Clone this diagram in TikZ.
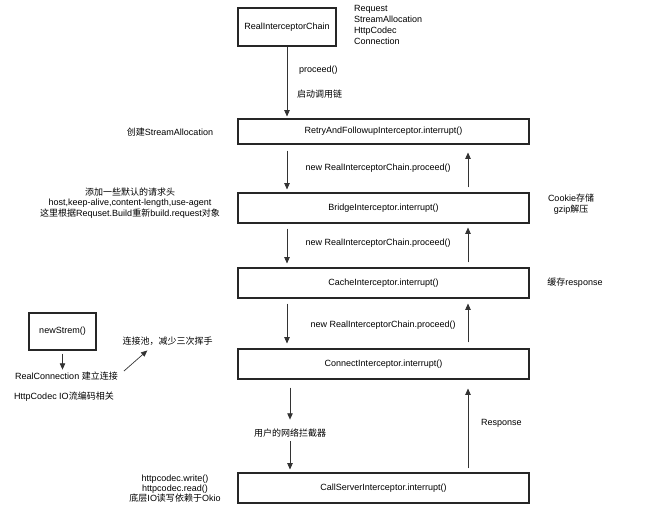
\documentclass[tikz,border=0pt]{standalone}
\usepackage{fontspec}
\setmainfont{Liberation Sans}
\newfontfamily\cjkfont{Noto Sans CJK SC}
\newcommand{\zh}[1]{{\cjkfont #1}}
\usetikzlibrary{arrows.meta}
\tikzset{%
  >={Triangle[width=1.9mm,length=2.2mm]},
  base/.style = {rectangle, draw=black!85, line width=1.1pt, text centered},
  chainBox/.style = {base, minimum width=98pt, minimum height=38pt},
  interceptor/.style = {base, minimum width=291pt, minimum height=30pt},
  note/.style = {align=center, inner sep=0pt},
  flow/.style = {->, draw=black!80, line width=0.7pt},
}

\begin{document}
\begin{tikzpicture}[x=1pt, y=-1pt,
    every node/.style={font=\fontsize{9}{11}\selectfont}]
  \useasboundingbox (0,0) rectangle (650,523);
  % the chain and its interceptors
  \node (chain)      [chainBox]    at (287,27)     {RealInterceptorChain};
  \node (retry)      [interceptor, minimum height=25pt] at (383.5,131.5)
                                           {RetryAndFollowupInterceptor.interrupt()};
  \node (bridge)     [interceptor] at (383.5,208)  {BridgeInterceptor.interrupt()};
  \node (cache)      [interceptor] at (383.5,283)  {CacheInterceptor.interrupt()};
  \node (connect)    [interceptor] at (383.5,364)  {ConnectInterceptor.interrupt()};
  \node (callServer) [interceptor] at (383.5,488)  {CallServerInterceptor.interrupt()};
  \node (newStream)  [base, minimum width=67pt, minimum height=37pt] at (62.5,331.5)
                                                                 {newStrem()};
  % notes beside the boxes
  \node (chainFields) [note, align=left, anchor=west] at (354,25)
                          {Request\\StreamAllocation\\HttpCodec\\Connection};
  \node (proceedLabel) [note, anchor=west] at (299,70)  {proceed()};
  \node (startLabel)   [note, anchor=west] at (297,94)  {\zh{启动调用链}};
  \node (allocNote)    [note] at (170,132)   {\zh{创建}StreamAllocation};
  \node (headerNote)   [note, font=\fontsize{9}{10.3}\selectfont] at (130,203)
                          {\zh{添加一些默认的请求头}\\
                           host,keep-alive,content-length,use-agent\\
                           \zh{这里根据}Requset.Build\zh{重新}build.request\zh{对象}};
  \node (cookieNote)   [note] at (571,204.5) {Cookie\zh{存储}\\gzip\zh{解压}};
  \node (cacheNote)    [note] at (575,283)   {\zh{缓存}response};
  \node (realConn)     [note] at (66.5,376)  {RealConnection \zh{建立连接}};
  \node (poolNote)     [note] at (167.5,341) {\zh{连接池，减少三次挥手}};
  \node (codecNote)    [note] at (64,397)    {HttpCodec IO\zh{流编码相关}};
  \node (netLabel)     [note] at (290,433)   {\zh{用户的网络拦截器}};
  \node (responseLabel)[note, anchor=west] at (481,423) {Response};
  \node (ioNote)       [note, font=\fontsize{9}{9.8}\selectfont] at (175,488.5)
                          {httpcodec.write()\\httpcodec.read()\\
                           \zh{底层}IO\zh{读写依赖于}Okio};
  \coordinate (downX) at (287,0);
  \coordinate (upX)   at (468,0);
  % calls going down, responses going up
  \draw[flow, shorten >=2pt] (chain) -- (chain.south |- retry.north);
  \draw[flow, shorten <=6pt, shorten >=3pt] (retry.south -| downX) --
      node[anchor=west, xshift=15pt] {new RealInterceptorChain.proceed()}
      (bridge.north -| downX);
  \draw[flow, shorten <=5pt, shorten >=8pt] (bridge.north -| upX) -- (retry.south -| upX);
  \draw[flow, shorten <=5pt, shorten >=4pt] (bridge.south -| downX) --
      node[anchor=west, xshift=15pt, yshift=2pt] {new RealInterceptorChain.proceed()}
      (cache.north -| downX);
  \draw[flow, shorten <=5pt, shorten >=4pt] (cache.north -| upX) -- (bridge.south -| upX);
  \draw[flow, shorten <=5pt, shorten >=5pt] (cache.south -| downX) --
      node[anchor=west, xshift=20pt, yshift=-2pt] {new RealInterceptorChain.proceed()}
      (connect.north -| downX);
  \draw[flow, shorten <=6pt, shorten >=5pt] (connect.north -| upX) -- (cache.south -| upX);
  \draw[flow, shorten <=8pt, shorten >=9pt] (connect.south -| netLabel) -- (netLabel);
  \draw[flow, shorten <=4pt, shorten >=3pt] (netLabel) -- (netLabel |- callServer.north);
  \draw[flow, shorten <=4pt, shorten >=9pt] (callServer.north -| upX) -- (connect.south -| upX);
  % connection setup on the left
  \draw[flow, shorten <=3pt, shorten >=2pt] (newStream) -- (newStream.south |- realConn.north);
  \draw[flow] ([xshift=6pt, yshift=5pt]realConn.east) --
              ([xshift=25pt, yshift=-5pt]poolNote.south west);
\end{tikzpicture}
\end{document}
